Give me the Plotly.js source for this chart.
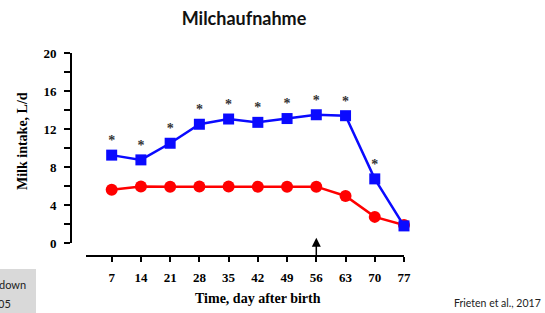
<!DOCTYPE html>
<html>
<head>
<meta charset="utf-8">
<script src="https://cdn.plot.ly/plotly-3.0.1.min.js"></script>
<style>html,body{margin:0;padding:0;background:#fff;}#chart{width:545px;height:313px;}</style>
</head>
<body>
<div id="chart"></div>
<script>
// ---- data ----
const days = [7, 14, 21, 28, 35, 42, 49, 56, 63, 70, 77];
const blueIntake = [9.25, 8.75, 10.5, 12.5, 13.05, 12.7, 13.1, 13.5, 13.4, 6.75, 1.8];
const redIntake  = [5.6, 5.95, 5.93, 5.95, 5.95, 5.93, 5.92, 5.93, 4.95, 2.75, 1.9];
const significance = ['*', '*', '*', '*', '*', '*', '*', '*', '*', '*', ''];
const weaningDay = 56;
const yTicks = [0, 4, 8, 12, 16, 20];

// ---- layout helpers (pixel -> paper) ----
const W = 545, H = 313;
const M = {l: 71, r: 141, t: 53, b: 57};
const PW = W - M.l - M.r, PH = H - M.t - M.b;
const px = x => (x - M.l) / PW;
const py = y => (H - M.b - y) / PH;

const serifBold = {family: 'Liberation Serif, Times New Roman, serif', size: 13, color: '#000', weight: 'bold'};

const traces = [
  {
    x: days, y: redIntake, type: 'scatter', mode: 'lines+markers',
    line: {color: '#ff0000', width: 2.5},
    marker: {symbol: 'circle', size: 12, color: '#ff0000'},
    cliponaxis: false, showlegend: false, hoverinfo: 'skip'
  },
  {
    x: days, y: blueIntake, type: 'scatter', mode: 'lines+markers',
    line: {color: '#0a0aff', width: 2.5},
    marker: {symbol: 'square', size: 11, color: '#0a0aff'},
    cliponaxis: false, showlegend: false, hoverinfo: 'skip'
  },
  {
    x: days, y: blueIntake, type: 'scatter', mode: 'markers+text',
    marker: {size: 9, opacity: 0},
    text: significance, textposition: 'top center',
    textfont: {family: 'Liberation Serif, serif', size: 14, color: '#333', weight: 'bold'},
    cliponaxis: false, showlegend: false, hoverinfo: 'skip'
  }
];

const layout = {
  width: W, height: H,
  margin: M,
  paper_bgcolor: '#fff', plot_bgcolor: 'rgba(0,0,0,0)',
  title: {
    text: 'Milchaufnahme',
    font: {family: 'Lato, Open Sans, sans-serif', size: 18, color: '#111', weight: 'bold'},
    x: 244 / W, xanchor: 'center', xref: 'container',
    y: 1 - 19 / H, yanchor: 'middle', yref: 'container'
  },
  xaxis: {
    domain: [px(86), 1], range: [0.85, 77],
    anchor: 'free', position: 0,
    tickvals: days, ticktext: days.map(String),
    ticks: 'outside', ticklen: 5, tickwidth: 2, tickcolor: '#000',
    showline: true, linecolor: '#000', linewidth: 2,
    showgrid: false, zeroline: false,
    tickfont: serifBold, ticklabelstandoff: 4
  },
  yaxis: {
    domain: [py(243), 1], range: [0, 20],
    anchor: 'free', position: 0,
    tickvals: yTicks,
    ticks: 'outside', ticklen: 6, tickwidth: 2, tickcolor: '#000',
    minor: {dtick: 2, ticks: 'outside', ticklen: 6, tickwidth: 2, tickcolor: '#000', showgrid: false},
    showline: true, linecolor: '#000', linewidth: 2,
    showgrid: false, zeroline: false,
    tickfont: serifBold, ticklabelstandoff: 5
  },
  shapes: [
    {type: 'rect', xref: 'paper', yref: 'paper', x0: px(0), x1: px(36), y0: py(313), y1: py(269),
     fillcolor: '#d9d9d9', line: {width: 0}, layer: 'below'}
  ],
  annotations: [
    {xref: 'paper', yref: 'paper', x: px(22), y: py(141), text: 'Milk intake, L/d', textangle: -90,
     showarrow: false, xanchor: 'center', yanchor: 'middle',
     font: {family: 'Liberation Serif, serif', size: 14, color: '#000', weight: 'bold'}},
    {xref: 'paper', yref: 'paper', x: px(258), y: py(298), text: 'Time, day after birth',
     showarrow: false, xanchor: 'center', yanchor: 'middle',
     font: {family: 'Liberation Serif, serif', size: 14, color: '#000', weight: 'bold'}},
    {xref: 'x', yref: 'y', x: weaningDay, y: 0.55, ax: 0, ay: 19, text: '',
     showarrow: true, arrowhead: 2, arrowsize: 1.2, arrowwidth: 1.5, arrowcolor: '#000'},
    {xref: 'paper', yref: 'paper', x: px(28), y: py(284), text: 'down',
     showarrow: false, xanchor: 'right', yanchor: 'middle',
     font: {family: 'Lato, sans-serif', size: 11, color: '#222'}},
    {xref: 'paper', yref: 'paper', x: px(13), y: py(303), text: '05',
     showarrow: false, xanchor: 'right', yanchor: 'middle',
     font: {family: 'Lato, sans-serif', size: 11, color: '#222'}},
    {xref: 'paper', yref: 'paper', x: px(452), y: py(302.5), text: 'Frieten et al., 2017',
     showarrow: false, xanchor: 'left', yanchor: 'middle',
     font: {family: 'Lato, sans-serif', size: 10.5, color: '#222'}}
  ]
};

Plotly.newPlot('chart', traces, layout, {staticPlot: true, displayModeBar: false});
</script>
</body>
</html>
